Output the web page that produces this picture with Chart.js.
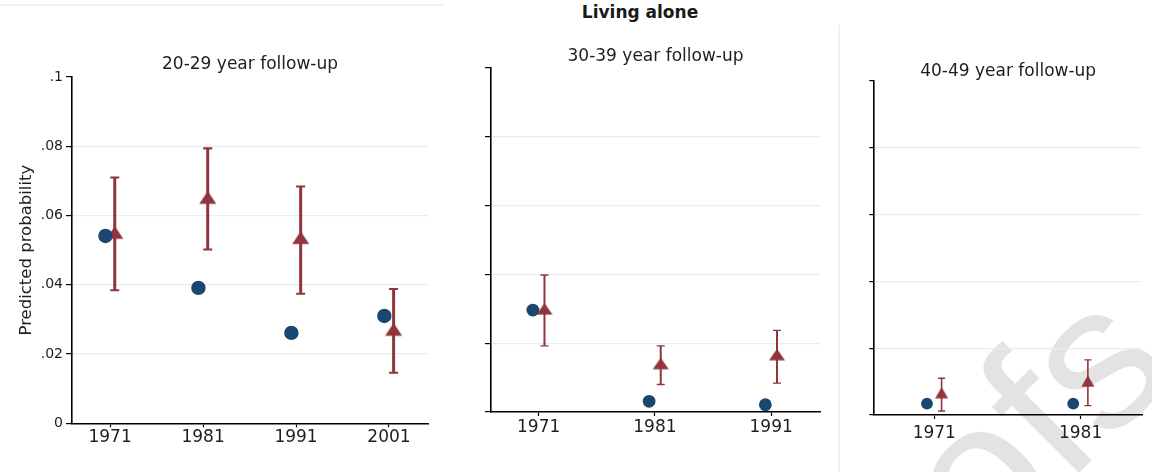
<!DOCTYPE html>
<html>
<head>
<meta charset="utf-8">
<script src="https://cdn.jsdelivr.net/npm/chart.js@4.4.1/dist/chart.umd.min.js"></script>
<style>
  html, body { margin: 0; padding: 0; background: #fff; }
  #wrap { position: relative; width: 1152px; height: 472px; overflow: hidden; background: #fff; }
  #wrap canvas { position: absolute; top: 0; }
  #stamp { position: absolute; left: 0; top: 0; }
  .frame-h { position: absolute; left: 0; top: 4px; width: 443px; height: 2px; background: #eef3f6; }
  .frame-v { position: absolute; left: 838px; top: 25px; width: 2px; height: 447px; background: #eef3f6; }
  #heading { position: absolute; left: 540px; top: 4px; width: 200px; text-align: center;
             font: bold 17px/1 "DejaVu Sans", sans-serif; color: #1a1a1a; }
</style>
</head>
<body>
<div id="wrap">
  <svg id="stamp" width="1152" height="472">
    <text transform="translate(760,792) rotate(-45)" font-family="Liberation Sans, Arial, sans-serif"
          font-size="205" fill="rgba(0,0,0,0.11)">Proofs</text>
  </svg>
  <div class="frame-h"></div>
  <div class="frame-v"></div>
  <div id="heading">Living alone</div>
  <canvas id="p20" width="440" height="472" style="left:0px"></canvas>
  <canvas id="p30" width="395" height="472" style="left:440px"></canvas>
  <canvas id="p40" width="312" height="472" style="left:840px"></canvas>
</div>
<script>
// Living alone: predicted probability by census year, three follow-up windows.
const panelTitles = ['20-29 year follow-up', '30-39 year follow-up', '40-49 year follow-up'];
const yAxisTitle = 'Predicted probability';
const yTickValues = [0, 0.02, 0.04, 0.06, 0.08, 0.1];
const yTickLabels = ['0', '.02', '.04', '.06', '.08', '.1'];

// 20-29 year follow-up
const years20 = [1971, 1981, 1991, 2001];
const groupA20 = [0.0541, 0.0391, 0.0261, 0.0310];
const groupB20 = [0.0545, 0.0646, 0.0530, 0.0265];
const groupBLow20 = [0.0384, 0.0502, 0.0374, 0.0146];
const groupBHigh20 = [0.0710, 0.0794, 0.0684, 0.0388];

// 30-39 year follow-up
const years30 = [1971, 1981, 1991];
const groupA30 = [0.0296, 0.0031, 0.0021];
const groupB30 = [0.0294, 0.0135, 0.0161];
const groupBLow30 = [0.0192, 0.0080, 0.0084];
const groupBHigh30 = [0.0398, 0.0192, 0.0237];

// 40-49 year follow-up
const years40 = [1971, 1981];
const groupA40 = [0.0034, 0.0034];
const groupB40 = [0.0061, 0.0096];
const groupBLow40 = [0.0012, 0.0028];
const groupBHigh40 = [0.0110, 0.0165];

const NAVY = '#1a476f';
const MAROON = '#90353b';
const GRID = '#e6eef1';
const INK = '#1e1e1e';
const FONT = '"DejaVu Sans", sans-serif';
const DODGE = 0.5;      // horizontal offset (years) between the two markers
const H = 472;

const panels = [
  { canvas: 'p20', left: 0, title: panelTitles[0], years: years20, a: groupA20, b: groupB20, lo: groupBLow20, hi: groupBHigh20,
    plot: { left: 72, top: 77, right: 428, bottom: 423.3 }, titleY: 64.8, xPad: 0,
    circleR: 7.2, triW: 17, triH: 12.8, barW: 3, capW: 9, yTick: 6, yLabels: true },
  { canvas: 'p30', left: 440, title: panelTitles[1], years: years30, a: groupA30, b: groupB30, lo: groupBLow30, hi: groupBHigh30,
    plot: { left: 491, top: 67.7, right: 820, bottom: 412 }, titleY: 56.5, xPad: 1.5,
    circleR: 6.4, triW: 16, triH: 11.6, barW: 2, capW: 8, yTick: 6, yLabels: false },
  { canvas: 'p40', left: 840, title: panelTitles[2], years: years40, a: groupA40, b: groupB40, lo: groupBLow40, hi: groupBHigh40,
    plot: { left: 874.3, top: 81, right: 1147, bottom: 415 }, titleY: 71.3, xPad: 4.8,
    circleR: 5.9, triW: 13, triH: 11.4, barW: 1.6, capW: 7, yTick: 5, yLabels: false }
];

// Triangle marker sprite whose centroid sits at the sprite centre.
function triangleSprite(w, h, color) {
  const size = 28;
  const c = document.createElement('canvas');
  c.width = size; c.height = size;
  const g = c.getContext('2d');
  const m = size / 2;
  g.fillStyle = color;
  g.beginPath();
  g.moveTo(m, m - (2 * h) / 3);
  g.lineTo(m + w / 2, m + h / 3);
  g.lineTo(m - w / 2, m + h / 3);
  g.closePath();
  g.fill();
  return c;
}

function errorBarPlugin(p) {
  return {
    id: 'errorBars',
    beforeDatasetsDraw(chart) {
      const { ctx } = chart;
      const xs = chart.scales.x, ys = chart.scales.y;
      ctx.save();
      ctx.strokeStyle = MAROON;
      p.years.forEach((yr, i) => {
        const px = xs.getPixelForValue(yr + DODGE);
        const top = ys.getPixelForValue(p.hi[i]);
        const bot = ys.getPixelForValue(p.lo[i]);
        ctx.lineWidth = p.barW;
        ctx.beginPath();
        ctx.moveTo(px, top); ctx.lineTo(px, bot);
        ctx.stroke();
        ctx.lineWidth = Math.max(1.4, p.barW * 0.7);
        ctx.beginPath();
        ctx.moveTo(px - p.capW / 2, top); ctx.lineTo(px + p.capW / 2, top);
        ctx.moveTo(px - p.capW / 2, bot); ctx.lineTo(px + p.capW / 2, bot);
        ctx.stroke();
      });
      ctx.restore();
    }
  };
}

function buildPanel(p) {
  const el = document.getElementById(p.canvas);
  const W = el.width;
  const lh = 17 * 1.2;
  const lastTick = yTickValues.length - 1;
  const tri = triangleSprite(p.triW, p.triH, MAROON);
  new Chart(el, {
    type: 'scatter',
    data: {
      datasets: [
        { label: 'Group A', data: p.years.map((yr, i) => ({ x: yr - DODGE, y: p.a[i] })),
          pointStyle: 'circle', pointRadius: p.circleR, pointHoverRadius: p.circleR,
          backgroundColor: NAVY, borderWidth: 0 },
        { label: 'Group B', data: p.years.map((yr, i) => ({ x: yr + DODGE, y: p.b[i] })),
          pointStyle: tri, pointRadius: 10, pointHoverRadius: 10,
          backgroundColor: MAROON, borderWidth: 0 }
      ]
    },
    plugins: [errorBarPlugin(p)],
    options: {
      responsive: false,
      animation: false,
      devicePixelRatio: 1,
      events: [],
      layout: { padding: { left: 0, top: 0, bottom: 0, right: W - (p.plot.right - p.left) } },
      plugins: {
        legend: { display: false },
        tooltip: { enabled: false },
        title: {
          display: true, text: p.title, fullSize: false, color: INK,
          font: { family: FONT, size: 17, weight: 'normal', lineHeight: 1.2 },
          padding: { top: p.titleY - lh / 2, bottom: p.plot.top - p.titleY - lh / 2 }
        }
      },
      scales: {
        x: {
          type: 'linear',
          min: p.years[0] - 4.1,
          max: p.years[p.years.length - 1] + 4.2,
          afterBuildTicks: s => { s.ticks = p.years.map(v => ({ value: v })); },
          afterFit: s => { s.height = H - p.plot.bottom; },
          grid: { drawOnChartArea: false, drawTicks: true, tickLength: 4, tickColor: '#000', tickWidth: 1.2 },
          border: { display: true, color: '#000', width: 1.6 },
          ticks: { color: INK, font: { family: FONT, size: 17 }, padding: p.xPad,
                   maxRotation: 0, autoSkip: false, callback: v => String(v) }
        },
        y: {
          type: 'linear',
          min: 0,
          max: 0.1,
          afterBuildTicks: s => { s.ticks = yTickValues.map(v => ({ value: v })); },
          afterFit: s => { s.width = p.plot.left - p.left; },
          grid: {
            drawOnChartArea: true, drawTicks: true, tickLength: p.yTick,
            color: c => (c.index === 0 || c.index === lastTick) ? 'rgba(0,0,0,0)' : GRID,
            lineWidth: 1.2, tickColor: '#000', tickWidth: 1.2
          },
          border: { display: true, color: '#000', width: 1.6 },
          ticks: { display: p.yLabels, color: INK, font: { family: FONT, size: 14 }, padding: 3,
                   callback: (v, i) => yTickLabels[i] },
          title: { display: p.yLabels, text: yAxisTitle, color: INK,
                   font: { family: FONT, size: 16.5 }, padding: { top: 17, bottom: 0 } }
        }
      }
    }
  });
}

panels.forEach(buildPanel);
</script>
</body>
</html>
